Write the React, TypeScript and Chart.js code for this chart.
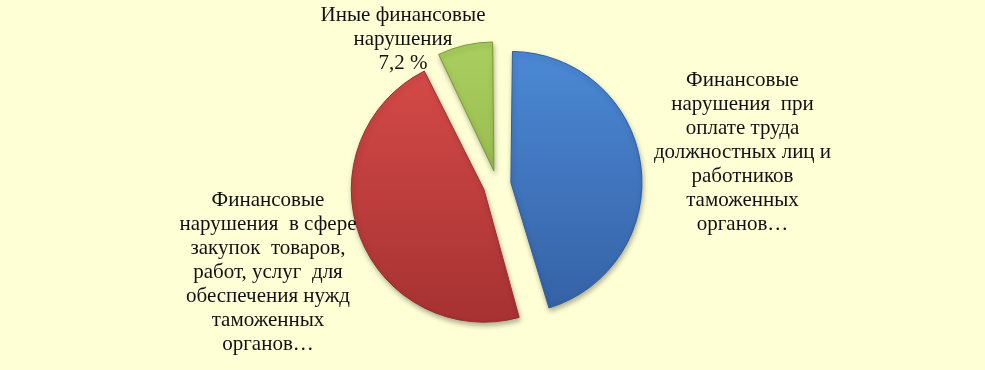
import React, { useEffect, useRef } from "react";
import { Chart, registerables } from "chart.js";

Chart.register(...registerables);

// ---- data ----
const categories: string[] = [
  "Финансовые нарушения при оплате труда должностных лиц и работников таможенных органов…",
  "Финансовые нарушения в сфере закупок товаров, работ, услуг для обеспечения нужд таможенных органов…",
  "Иные финансовые нарушения",
];
const values: number[] = [45.5, 47.3, 7.2];
const labelLines: string[][] = [
  ["Финансовые", "нарушения  при", "оплате труда", "должностных лиц и", "работников", "таможенных", "органов…"],
  ["Финансовые", "нарушения  в сфере", "закупок  товаров,", "работ, услуг  для", "обеспечения нужд", "таможенных", "органов…"],
  ["Иные финансовые", "нарушения", "7,2 %"],
];

// ---- styles / layout ----
const BG = "#FFFFD6";
const GRADS: [string, string][] = [
  ["#4D8CD8", "#335EA2"],
  ["#D94D4B", "#A33030"],
  ["#ADD262", "#84A83C"],
];
const BORDERS = ["#2F5E9C", "#9A2E2C", "#7A9A36"];
const LABEL_POS: [number, number][] = [
  [245.5, -31.7],
  [-229, 88.3],
  [-94, -145],
];
const LINE_H = 24;

const labelPlugin = {
  id: "sliceLabels",
  beforeDraw(chart: any) {
    const { ctx, width, height } = chart;
    ctx.save();
    ctx.fillStyle = BG;
    ctx.fillRect(0, 0, width, height);
    ctx.restore();
  },
  beforeDatasetsDraw(chart: any) {
    const ctx = chart.ctx;
    ctx.save();
    ctx.shadowColor = "rgba(0,0,0,0.3)";
    ctx.shadowBlur = 5;
    ctx.shadowOffsetX = 1;
    ctx.shadowOffsetY = 3;
  },
  afterDatasetsDraw(chart: any) {
    chart.ctx.restore();
  },
  afterDraw(chart: any) {
    const { ctx, chartArea } = chart;
    const cx = (chartArea.left + chartArea.right) / 2;
    const cy = (chartArea.top + chartArea.bottom) / 2;
    ctx.save();
    ctx.font = '21px "Liberation Serif", "Times New Roman", serif';
    ctx.fillStyle = "#111";
    ctx.textAlign = "center";
    ctx.textBaseline = "middle";
    labelLines.forEach((lines, i) => {
      const [dx, dy] = LABEL_POS[i];
      const x = cx + dx;
      const y0 = cy + dy - ((lines.length - 1) * LINE_H) / 2;
      lines.forEach((ln, j) => ctx.fillText(ln, x, y0 + j * LINE_H));
    });
    ctx.restore();
  },
};

export default function App() {
  const ref = useRef<HTMLCanvasElement>(null);
  useEffect(() => {
    if (!ref.current) return;
    const chart = new Chart(ref.current, {
      type: "pie",
      data: {
        labels: categories,
        datasets: [
          {
            data: values,
            backgroundColor: (c: any) => {
              const ch = c.chart;
              const area = ch.chartArea;
              const g = GRADS[c.dataIndex % GRADS.length];
              if (!area) return g[0];
              const grad = ch.ctx.createLinearGradient(0, area.top, 0, area.bottom);
              grad.addColorStop(0, g[0]);
              grad.addColorStop(1, g[1]);
              return grad;
            },
            borderColor: BORDERS,
            borderWidth: 1,
            offset: 56,
            hoverOffset: 56,
          },
        ],
      },
      options: {
        animation: false,
        responsive: true,
        maintainAspectRatio: false,
        layout: { padding: { top: 35, bottom: 36, left: 300, right: 291 } },
        plugins: {
          legend: { display: false },
          tooltip: { enabled: false },
        },
      },
      plugins: [labelPlugin],
    });
    return () => chart.destroy();
  }, []);
  return (
    <div style={{ position: "absolute", left: 0, top: 0, width: 985, height: 370, background: BG }}>
      <canvas ref={ref} />
    </div>
  );
}
